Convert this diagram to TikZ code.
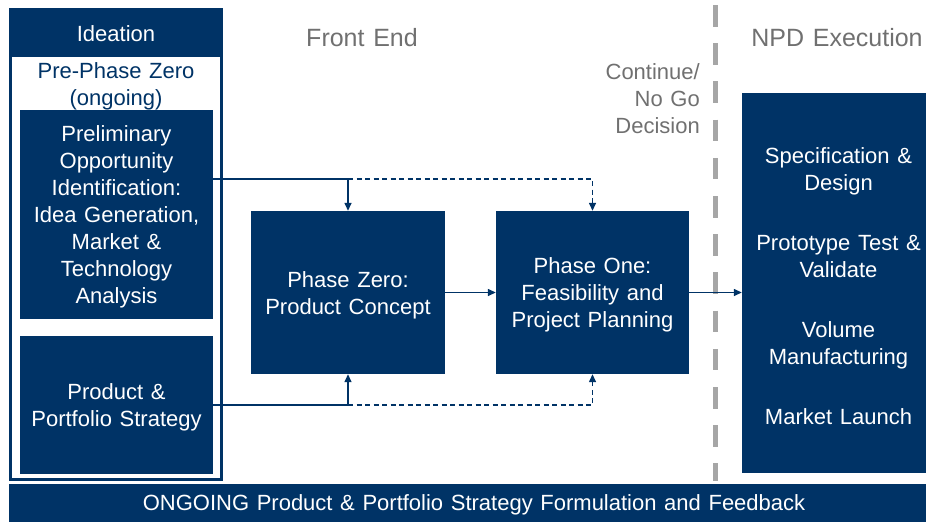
\documentclass[tikz,border=0pt]{standalone}
\usepackage{fontspec}
\setmainfont{Liberation Sans}[WordSpace=1.25]
\usetikzlibrary{arrows.meta}
\definecolor{navy}{RGB}{0,51,102}
\definecolor{greytxt}{RGB}{112,112,112}
\definecolor{greydash}{RGB}{166,166,166}
\begin{document}
\begin{tikzpicture}[x=1pt,y=-1pt,
  bodytext/.style={font=\fontsize{22}{27}\selectfont},
  navybox/.style={fill=navy, draw=none, inner sep=0pt},
  boxtext/.style={text=white, align=center, inner sep=0pt, bodytext},
  heading/.style={text=greytxt, font=\fontsize{25}{30}\selectfont, inner sep=0pt},
  link/.style={draw=navy, line width=1.4pt},
  tip/.style={-{Triangle[length=8pt,width=7pt]}},
  dashlink/.style={link, dash pattern=on 5pt off 3.5pt}
]
\useasboundingbox (0,0) rectangle (926,522);

% Ideation frame
\fill[navy] (9,8) rectangle (223,57);
\draw[navy, line width=3pt] (10.5,9.5) rectangle (221.5,479.5);
\node[text=white, bodytext, inner sep=0pt] (ideation) at (116,34) {Ideation};
\node[text=navy, bodytext, align=center, inner sep=0pt] (prephase) at (116,86.5) {Pre-Phase Zero\\(ongoing)};

% boxes
\node[navybox, minimum width=193pt, minimum height=209pt] (prelim) at (116.5,214.5) {};
\node[boxtext] (prelimt) at ([yshift=-2.5pt]prelim.center)
  {Preliminary\\Opportunity\\Identification:\\Idea Generation,\\Market \&\\Technology\\Analysis};
\node[navybox, minimum width=193pt, minimum height=138pt] (prod) at (116.5,405) {};
\node[boxtext] (prodt) at ([yshift=-2.5pt]prod.center) {Product \&\\Portfolio Strategy};
\node[navybox, minimum width=194pt, minimum height=163pt] (p0) at (348,292.5) {};
\node[boxtext] (p0t) at ([yshift=-3pt]p0.center) {Phase Zero:\\Product Concept};
\node[navybox, minimum width=193pt, minimum height=163pt] (p1) at (592.5,292.5) {};
\node[boxtext] (p1t) at ([yshift=-2.5pt]p1.center) {Phase One:\\Feasibility and\\Project Planning};
\node[navybox, minimum width=193pt, minimum height=380pt] (npd) at (838.5,283) {};
\node[boxtext] (npdt) at ([yshift=-3pt]npd.center)
  {Specification \&\\Design\\[33pt]Prototype Test \&\\Validate\\[33pt]Volume\\Manufacturing\\[33pt]Market Launch};
\node[navybox, minimum width=930pt, minimum height=38pt] (bar) at (474,503) {};
\node[boxtext] (bart) at ([yshift=-2pt]bar.center)
  {ONGOING Product \& Portfolio Strategy Formulation and Feedback};

% headings
\node[heading] (fe) at (362,38) {Front End};
\node[heading] (npdh) at (837,38) {NPD Execution};
\node[text=greytxt, bodytext, align=right, inner sep=0pt, anchor=east] (dec) at (700,99)
  {Continue/\\No Go\\Decision};

% gate line
\coordinate (gtop) at (715,5);
\coordinate (gbot) at (715,481);
\draw[greydash, line width=5pt, dash pattern=on 21.5pt off 16.7pt] (gtop) -- (gbot);

% connectors
\coordinate (j1) at (348,179);
\coordinate (j2) at (592.5,179);
\coordinate (j3) at (348,405);
\coordinate (j4) at (592.5,405);
\draw[link] (prelim.east |- j1) -- (j1);
\draw[link, tip] (j1) -- (p0.north);
\draw[dashlink, tip] (j1) -- (j2) -- (p1.north);
\draw[link] (prod.east |- j3) -- (j3);
\draw[link, tip] (j3) -- (p0.south);
\draw[dashlink, tip] (j3) -- (j4) -- (p1.south);
\draw[link, tip] (p0.east) -- (p1.west);
\draw[link, tip] (p1.east) -- (npd.west |- p1.east);
\end{tikzpicture}
\end{document}
